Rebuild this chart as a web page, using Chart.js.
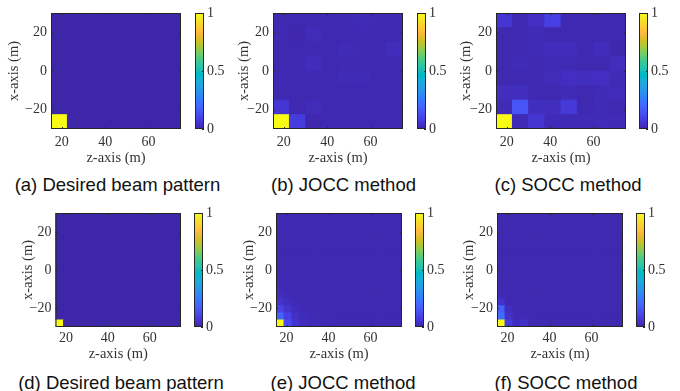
<!DOCTYPE html>
<html>
<head>
<meta charset="utf-8">
<script src="https://cdn.jsdelivr.net/npm/chart.js@4.4.1/dist/chart.umd.min.js"></script>
<style>
  body { margin: 0; background: #fff; }
  #page { position: relative; width: 680px; height: 391px; overflow: hidden; background: #fff; }
  canvas { position: absolute; }
  .cap { position: absolute; font-family: "Liberation Sans", Arial, sans-serif; font-size: 18.5px; line-height: 18px; color: #111; white-space: nowrap; transform: translateX(-50%); }
</style>
</head>
<body>
<div id="page"></div>
<script>
// ticks
const zTicks = [20, 40, 60];
const xTicks = [-20, 0, 20];
const cbTicks = [0, 0.5, 1];

// cell edges (m)
const zEdges8 = [15, 22.5, 30, 37.5, 45, 52.5, 60, 67.5, 75];
const xEdges8 = [-30, -22.5, -15, -7.5, 0, 7.5, 15, 22.5, 30];
const zEdges16 = [15, 18.75, 22.5, 26.25, 30, 33.75, 37.5, 41.25, 45, 48.75, 52.5, 56.25, 60, 63.75, 67.5, 71.25, 75];
const xEdges16 = [-30, -26.25, -22.5, -18.75, -15, -11.25, -7.5, -3.75, 0, 3.75, 7.5, 11.25, 15, 18.75, 22.5, 26.25, 30];

// beam patterns, rows from top (x = 30) to bottom (x = -30)
const desiredA = [
  [0, 0, 0, 0, 0, 0, 0, 0],
  [0, 0, 0, 0, 0, 0, 0, 0],
  [0, 0, 0, 0, 0, 0, 0, 0],
  [0, 0, 0, 0, 0, 0, 0, 0],
  [0, 0, 0, 0, 0, 0, 0, 0],
  [0, 0, 0, 0, 0, 0, 0, 0],
  [0, 0, 0, 0, 0, 0, 0, 0],
  [1, 0, 0, 0, 0, 0, 0, 0]
];
const joccB = [
  [0.010, 0.010, 0.012, 0.012, 0.015, 0.020, 0.015, 0.015],
  [0.015, 0.008, 0.022, 0.012, 0.012, 0.015, 0.012, 0.012],
  [0.012, 0.012, 0.012, 0.012, 0.020, 0.015, 0.010, 0.025],
  [0.012, 0.012, 0.025, 0.012, 0.015, 0.012, 0.010, 0.010],
  [0.015, 0.012, 0.015, 0.012, 0.018, 0.018, 0.012, 0.010],
  [0.012, 0.012, 0.012, 0.012, 0.012, 0.012, 0.015, 0.010],
  [0.060, 0.012, 0.022, 0.012, 0.015, 0.012, 0.010, 0.010],
  [1.000, 0.080, 0.006, 0.012, 0.012, 0.012, 0.012, 0.012]
];
const soccC = [
  [0.060, 0.012, 0.035, 0.090, 0.012, 0.012, 0.012, 0.010],
  [0.012, 0.012, 0.018, 0.012, 0.012, 0.010, 0.010, 0.010],
  [0.012, 0.012, 0.018, 0.025, 0.025, 0.012, 0.025, 0.006],
  [0.012, 0.018, 0.012, 0.018, 0.018, 0.012, 0.012, 0.030],
  [0.012, 0.012, 0.010, 0.022, 0.035, 0.030, 0.035, 0.018],
  [0.030, 0.030, 0.010, 0.012, 0.018, 0.012, 0.018, 0.022],
  [0.018, 0.150, 0.030, 0.030, 0.070, 0.012, 0.018, 0.010],
  [1.000, 0.018, 0.060, 0.018, 0.018, 0.018, 0.022, 0.018]
];
const desiredD = [
  [0, 0, 0, 0, 0, 0, 0, 0, 0, 0, 0, 0, 0, 0, 0, 0],
  [0, 0, 0, 0, 0, 0, 0, 0, 0, 0, 0, 0, 0, 0, 0, 0],
  [0, 0, 0, 0, 0, 0, 0, 0, 0, 0, 0, 0, 0, 0, 0, 0],
  [0, 0, 0, 0, 0, 0, 0, 0, 0, 0, 0, 0, 0, 0, 0, 0],
  [0, 0, 0, 0, 0, 0, 0, 0, 0, 0, 0, 0, 0, 0, 0, 0],
  [0, 0, 0, 0, 0, 0, 0, 0, 0, 0, 0, 0, 0, 0, 0, 0],
  [0, 0, 0, 0, 0, 0, 0, 0, 0, 0, 0, 0, 0, 0, 0, 0],
  [0, 0, 0, 0, 0, 0, 0, 0, 0, 0, 0, 0, 0, 0, 0, 0],
  [0, 0, 0, 0, 0, 0, 0, 0, 0, 0, 0, 0, 0, 0, 0, 0],
  [0, 0, 0, 0, 0, 0, 0, 0, 0, 0, 0, 0, 0, 0, 0, 0],
  [0, 0, 0, 0, 0, 0, 0, 0, 0, 0, 0, 0, 0, 0, 0, 0],
  [0, 0, 0, 0, 0, 0, 0, 0, 0, 0, 0, 0, 0, 0, 0, 0],
  [0, 0, 0, 0, 0, 0, 0, 0, 0, 0, 0, 0, 0, 0, 0, 0],
  [0, 0, 0, 0, 0, 0, 0, 0, 0, 0, 0, 0, 0, 0, 0, 0],
  [0, 0, 0, 0, 0, 0, 0, 0, 0, 0, 0, 0, 0, 0, 0, 0],
  [1, 0, 0, 0, 0, 0, 0, 0, 0, 0, 0, 0, 0, 0, 0, 0]
];
const joccE = [
  [0.015, 0.012, 0.010, 0.010, 0.010, 0.010, 0.010, 0.010, 0.010, 0.010, 0.010, 0.010, 0.010, 0.010, 0.010, 0.010],
  [0.015, 0.010, 0.012, 0.010, 0.010, 0.010, 0.010, 0.010, 0.010, 0.010, 0.010, 0.010, 0.010, 0.010, 0.010, 0.010],
  [0.010, 0.010, 0.010, 0.010, 0.010, 0.010, 0.010, 0.010, 0.010, 0.010, 0.010, 0.010, 0.010, 0.010, 0.010, 0.010],
  [0.012, 0.010, 0.010, 0.010, 0.010, 0.010, 0.010, 0.010, 0.010, 0.010, 0.010, 0.010, 0.010, 0.010, 0.010, 0.010],
  [0.010, 0.010, 0.010, 0.010, 0.010, 0.010, 0.010, 0.010, 0.010, 0.010, 0.010, 0.010, 0.010, 0.010, 0.010, 0.010],
  [0.010, 0.010, 0.010, 0.010, 0.010, 0.010, 0.010, 0.010, 0.010, 0.010, 0.010, 0.010, 0.010, 0.010, 0.010, 0.010],
  [0.012, 0.010, 0.010, 0.010, 0.010, 0.010, 0.010, 0.010, 0.010, 0.010, 0.010, 0.010, 0.010, 0.010, 0.010, 0.010],
  [0.010, 0.010, 0.010, 0.010, 0.010, 0.010, 0.010, 0.010, 0.010, 0.010, 0.010, 0.010, 0.010, 0.010, 0.010, 0.010],
  [0.012, 0.010, 0.010, 0.010, 0.010, 0.010, 0.010, 0.010, 0.010, 0.010, 0.010, 0.010, 0.010, 0.010, 0.010, 0.010],
  [0.015, 0.012, 0.010, 0.010, 0.010, 0.010, 0.010, 0.010, 0.010, 0.010, 0.010, 0.010, 0.010, 0.010, 0.010, 0.010],
  [0.020, 0.015, 0.010, 0.010, 0.010, 0.010, 0.010, 0.010, 0.010, 0.010, 0.010, 0.010, 0.010, 0.010, 0.010, 0.010],
  [0.030, 0.018, 0.015, 0.010, 0.010, 0.010, 0.010, 0.010, 0.010, 0.010, 0.010, 0.010, 0.010, 0.010, 0.010, 0.010],
  [0.050, 0.030, 0.018, 0.015, 0.012, 0.010, 0.010, 0.010, 0.010, 0.010, 0.010, 0.010, 0.010, 0.010, 0.010, 0.010],
  [0.100, 0.050, 0.025, 0.018, 0.015, 0.012, 0.010, 0.010, 0.010, 0.010, 0.010, 0.010, 0.010, 0.010, 0.010, 0.010],
  [0.190, 0.090, 0.040, 0.025, 0.018, 0.015, 0.012, 0.010, 0.010, 0.010, 0.010, 0.010, 0.010, 0.010, 0.010, 0.010],
  [1.000, 0.120, 0.055, 0.030, 0.022, 0.018, 0.015, 0.015, 0.012, 0.010, 0.010, 0.010, 0.010, 0.010, 0.010, 0.010]
];
const soccF = [
  [0.015, 0.010, 0.010, 0.010, 0.010, 0.010, 0.010, 0.010, 0.010, 0.010, 0.010, 0.010, 0.010, 0.010, 0.010, 0.010],
  [0.010, 0.010, 0.010, 0.010, 0.010, 0.010, 0.010, 0.010, 0.010, 0.010, 0.010, 0.010, 0.010, 0.010, 0.010, 0.010],
  [0.012, 0.010, 0.010, 0.010, 0.010, 0.010, 0.010, 0.010, 0.010, 0.010, 0.010, 0.010, 0.010, 0.010, 0.010, 0.010],
  [0.010, 0.010, 0.010, 0.010, 0.010, 0.010, 0.010, 0.010, 0.010, 0.010, 0.010, 0.010, 0.010, 0.010, 0.010, 0.010],
  [0.010, 0.010, 0.010, 0.010, 0.010, 0.010, 0.010, 0.010, 0.010, 0.010, 0.010, 0.010, 0.010, 0.010, 0.010, 0.010],
  [0.012, 0.010, 0.010, 0.010, 0.010, 0.010, 0.010, 0.010, 0.010, 0.010, 0.010, 0.010, 0.010, 0.010, 0.010, 0.010],
  [0.010, 0.010, 0.010, 0.010, 0.010, 0.010, 0.010, 0.010, 0.010, 0.010, 0.010, 0.010, 0.010, 0.010, 0.010, 0.010],
  [0.010, 0.010, 0.010, 0.010, 0.010, 0.010, 0.010, 0.010, 0.010, 0.010, 0.010, 0.010, 0.010, 0.010, 0.010, 0.010],
  [0.012, 0.010, 0.010, 0.010, 0.010, 0.010, 0.010, 0.010, 0.010, 0.010, 0.010, 0.010, 0.010, 0.010, 0.010, 0.010],
  [0.010, 0.010, 0.010, 0.010, 0.010, 0.010, 0.010, 0.010, 0.010, 0.010, 0.010, 0.010, 0.010, 0.010, 0.010, 0.010],
  [0.015, 0.010, 0.010, 0.010, 0.010, 0.010, 0.010, 0.010, 0.010, 0.010, 0.010, 0.010, 0.010, 0.010, 0.010, 0.010],
  [0.020, 0.012, 0.010, 0.010, 0.010, 0.010, 0.010, 0.010, 0.010, 0.010, 0.010, 0.010, 0.010, 0.010, 0.010, 0.010],
  [0.045, 0.015, 0.010, 0.010, 0.010, 0.010, 0.010, 0.010, 0.010, 0.010, 0.010, 0.010, 0.010, 0.010, 0.010, 0.010],
  [0.180, 0.030, 0.015, 0.010, 0.010, 0.010, 0.010, 0.010, 0.010, 0.010, 0.010, 0.010, 0.010, 0.010, 0.010, 0.010],
  [0.220, 0.045, 0.015, 0.015, 0.010, 0.010, 0.010, 0.010, 0.010, 0.010, 0.010, 0.010, 0.010, 0.010, 0.010, 0.010],
  [1.000, 0.080, 0.030, 0.045, 0.015, 0.012, 0.010, 0.010, 0.010, 0.010, 0.010, 0.010, 0.010, 0.010, 0.010, 0.010]
];

// parula colormap, 64 entries
const PARULA = [
  [0.2422,0.1504,0.6603],[0.2504,0.1650,0.7076],[0.2578,0.1818,0.7511],[0.2647,0.1978,0.7952],
  [0.2706,0.2147,0.8364],[0.2751,0.2342,0.8710],[0.2783,0.2559,0.8991],[0.2803,0.2782,0.9221],
  [0.2813,0.3006,0.9414],[0.2810,0.3228,0.9579],[0.2795,0.3447,0.9717],[0.2760,0.3667,0.9829],
  [0.2699,0.3892,0.9906],[0.2602,0.4123,0.9952],[0.2440,0.4358,0.9988],[0.2206,0.4603,0.9973],
  [0.1963,0.4847,0.9892],[0.1834,0.5074,0.9798],[0.1786,0.5289,0.9682],[0.1764,0.5499,0.9520],
  [0.1687,0.5703,0.9359],[0.1540,0.5902,0.9218],[0.1460,0.6091,0.9079],[0.1380,0.6276,0.8973],
  [0.1248,0.6459,0.8883],[0.1113,0.6635,0.8763],[0.0952,0.6798,0.8598],[0.0689,0.6948,0.8394],
  [0.0297,0.7082,0.8163],[0.0036,0.7203,0.7917],[0.0067,0.7312,0.7660],[0.0433,0.7411,0.7394],
  [0.0964,0.7500,0.7120],[0.1408,0.7584,0.6842],[0.1717,0.7670,0.6554],[0.1938,0.7758,0.6251],
  [0.2161,0.7843,0.5923],[0.2470,0.7918,0.5567],[0.2906,0.7973,0.5188],[0.3406,0.8008,0.4789],
  [0.3909,0.8029,0.4354],[0.4456,0.8024,0.3909],[0.5044,0.7993,0.3480],[0.5616,0.7942,0.3062],
  [0.6174,0.7876,0.2612],[0.6720,0.7793,0.2227],[0.7242,0.7698,0.1910],[0.7738,0.7598,0.1646],
  [0.8203,0.7498,0.1535],[0.8634,0.7406,0.1596],[0.9035,0.7330,0.1774],[0.9393,0.7288,0.2100],
  [0.9728,0.7298,0.2394],[0.9956,0.7434,0.2371],[0.9970,0.7659,0.2199],[0.9952,0.7893,0.2028],
  [0.9892,0.8136,0.1885],[0.9786,0.8386,0.1766],[0.9676,0.8639,0.1643],[0.9610,0.8890,0.1537],
  [0.9597,0.9135,0.1423],[0.9628,0.9373,0.1265],[0.9691,0.9606,0.1064],[0.9769,0.9839,0.0805]
];

function parula(v) {
  const t = Math.min(Math.max(v, 0), 1) * 63;
  const i = Math.min(Math.floor(t), 62);
  const f = t - i;
  const a = PARULA[i], b = PARULA[i + 1];
  const c = [0, 1, 2].map(k => Math.round(255 * (a[k] + (b[k] - a[k]) * f)));
  return `rgb(${c[0]},${c[1]},${c[2]})`;
}

function cells(rows, zEdges, xEdges) {
  const out = [];
  const n = rows.length;
  rows.forEach((row, r) => {
    const i = n - 1 - r;
    row.forEach((v, j) => {
      out.push({ x: (zEdges[j] + zEdges[j + 1]) / 2, y: [xEdges[i], xEdges[i + 1]], v: v });
    });
  });
  return out;
}

const INK = "#333";
const tickFont = { family: "'Liberation Serif', 'Times New Roman', serif", size: 14 };
const titleFont = { family: "'Liberation Serif', 'Times New Roman', serif", size: 14.5 };

// box round the plot area with small inward ticks, like matlab
const framePlugin = {
  id: "frame",
  beforeDatasetsDraw(chart, args, opts) {
    if (!opts.fill) return;
    const a = chart.chartArea, c = chart.ctx;
    c.save();
    c.fillStyle = opts.fill;
    c.fillRect(a.left, a.top, a.width, a.height);
    c.restore();
  },
  afterDatasetsDraw(chart, args, opts) {
    const a = chart.chartArea, c = chart.ctx;
    const len = 2;
    c.save();
    c.strokeStyle = "#262626";
    c.lineWidth = 1;
    c.strokeRect(a.left + 0.5, a.top + 0.5, a.width - 1, a.height - 1);
    c.beginPath();
    if (opts.sides === "all") {
      const sx = chart.scales.x;
      sx.ticks.forEach(t => {
        const p = Math.round(sx.getPixelForValue(t.value)) + 0.5;
        c.moveTo(p, a.bottom); c.lineTo(p, a.bottom - len);
        c.moveTo(p, a.top); c.lineTo(p, a.top + len);
      });
    }
    const sy = chart.scales.y;
    sy.ticks.forEach(t => {
      const p = Math.round(sy.getPixelForValue(t.value)) + 0.5;
      if (opts.sides === "all") { c.moveTo(a.left, p); c.lineTo(a.left + len, p); }
      c.moveTo(a.right, p); c.lineTo(a.right - len, p);
    });
    c.stroke();
    c.restore();
  }
};

const page = document.getElementById("page");

function makeCanvas(left, top, w, h) {
  const cv = document.createElement("canvas");
  cv.width = w; cv.height = h;
  cv.style.left = left + "px"; cv.style.top = top + "px";
  cv.style.width = w + "px"; cv.style.height = h + "px";
  page.appendChild(cv);
  return cv;
}

function heatmap(p, rows, zEdges, xEdges) {
  const left = p.yTitleX - 10;
  const top = p.t - 13;
  const w = p.r + 4 - left;
  const h = Math.round(p.zTitleY + 9) - top;
  const cv = makeCanvas(left, top, w, h);
  new Chart(cv, {
    type: "bar",
    data: {
      datasets: [{
        data: cells(rows, zEdges, xEdges),
        backgroundColor: ctx => parula(ctx.raw.v),
        borderWidth: 0,
        categoryPercentage: 1,
        barPercentage: 1
      }]
    },
    options: {
      responsive: false,
      animation: false,
      layout: { padding: { top: 13, right: 4, bottom: 0, left: 0 } },
      plugins: {
        legend: { display: false },
        tooltip: { enabled: false },
        frame: { fill: parula(0.01), sides: "all" }
      },
      scales: {
        x: {
          type: "linear", min: 15, max: 75, offset: false,
          afterBuildTicks: s => { s.ticks = zTicks.map(v => ({ value: v })); },
          afterFit: s => { s.height = h - (p.b - top); },
          grid: { display: false, drawTicks: false },
          border: { display: false },
          ticks: { padding: p.xPad, font: tickFont, color: INK, maxRotation: 0 },
          title: { display: true, text: "z-axis (m)", font: titleFont, color: INK, padding: { top: 0, bottom: 0.3 } }
        },
        y: {
          type: "linear", min: -30, max: 30,
          afterBuildTicks: s => { s.ticks = xTicks.map(v => ({ value: v })); },
          afterFit: s => { s.width = p.l - left; },
          grid: { display: false, drawTicks: false },
          border: { display: false },
          ticks: { padding: 4, font: tickFont, color: INK, callback: v => String(v).replace("-", "\u2212") },
          title: { display: true, text: "x-axis (m)", font: titleFont, color: INK, padding: { top: 1.3, bottom: 0 } }
        }
      }
    },
    plugins: [framePlugin]
  });
}

function colorbar(p) {
  const left = p.cb - 2;
  const top = p.t - 13;
  const w = 40;
  const h = p.b - p.t + 26;
  const cv = makeCanvas(left, top, w, h);
  new Chart(cv, {
    type: "bar",
    data: {
      labels: [""],
      datasets: [{
        data: [[0, 1]],
        backgroundColor: ctx => {
          const a = ctx.chart.chartArea;
          if (!a) return parula(0);
          const g = ctx.chart.ctx.createLinearGradient(0, a.bottom, 0, a.top);
          PARULA.forEach((c, k) => g.addColorStop(k / 63, `rgb(${c.map(x => Math.round(x * 255)).join(",")})`));
          return g;
        },
        borderWidth: 0,
        categoryPercentage: 1,
        barPercentage: 1
      }]
    },
    options: {
      responsive: false,
      animation: false,
      layout: { padding: { top: 13, right: 0, bottom: 13, left: 2 } },
      plugins: { legend: { display: false }, tooltip: { enabled: false }, frame: { sides: "right" } },
      scales: {
        x: { display: false },
        y: {
          position: "right", min: 0, max: 1,
          afterBuildTicks: s => { s.ticks = cbTicks.map(v => ({ value: v })); },
          afterFit: s => { s.width = w - 2 - p.cbw; },
          grid: { display: false, drawTicks: false },
          border: { display: false },
          ticks: { padding: 3, font: tickFont, color: INK, callback: v => String(v) }
        }
      }
    },
    plugins: [framePlugin]
  });
}

function caption(text, cx, cy) {
  const d = document.createElement("div");
  d.className = "cap";
  d.textContent = text;
  d.style.left = cx + "px";
  d.style.top = (cy - 10.5) + "px";
  page.appendChild(d);
}

// panel layout
const panels = [
  { l: 51, r: 181, t: 13, b: 129, cb: 195, cbw: 9, yTitleX: 14, zTitleY: 157.5, xPad: 5, cap: "(a) Desired beam pattern", capX: 117.5, capY: 186, rows: desiredA, ze: zEdges8, xe: xEdges8 },
  { l: 273, r: 403, t: 13, b: 129, cb: 417, cbw: 9, yTitleX: 244, zTitleY: 157.5, xPad: 5, cap: "(b) JOCC method", capX: 343.5, capY: 186, rows: joccB, ze: zEdges8, xe: xEdges8 },
  { l: 496, r: 626, t: 13, b: 129, cb: 639, cbw: 9, yTitleX: 466, zTitleY: 157.5, xPad: 5, cap: "(c) SOCC method", capX: 568, capY: 186, rows: soccC, ze: zEdges8, xe: xEdges8 },
  { l: 55, r: 181, t: 213, b: 327, cb: 194, cbw: 9, yTitleX: 27.5, zTitleY: 354, xPad: 3, cap: "(d) Desired beam pattern", capX: 121, capY: 384, rows: desiredD, ze: zEdges16, xe: xEdges16 },
  { l: 276, r: 402, t: 213, b: 327, cb: 415, cbw: 9, yTitleX: 249, zTitleY: 354, xPad: 3, cap: "(e) JOCC method", capX: 343, capY: 384, rows: joccE, ze: zEdges16, xe: xEdges16 },
  { l: 497, r: 623, t: 213, b: 327, cb: 636, cbw: 9, yTitleX: 469, zTitleY: 354, xPad: 3, cap: "(f) SOCC method", capX: 566, capY: 384, rows: soccF, ze: zEdges16, xe: xEdges16 }
];

panels.forEach(p => {
  heatmap(p, p.rows, p.ze, p.xe);
  colorbar(p);
  caption(p.cap, p.capX, p.capY);
});
</script>
</body>
</html>
